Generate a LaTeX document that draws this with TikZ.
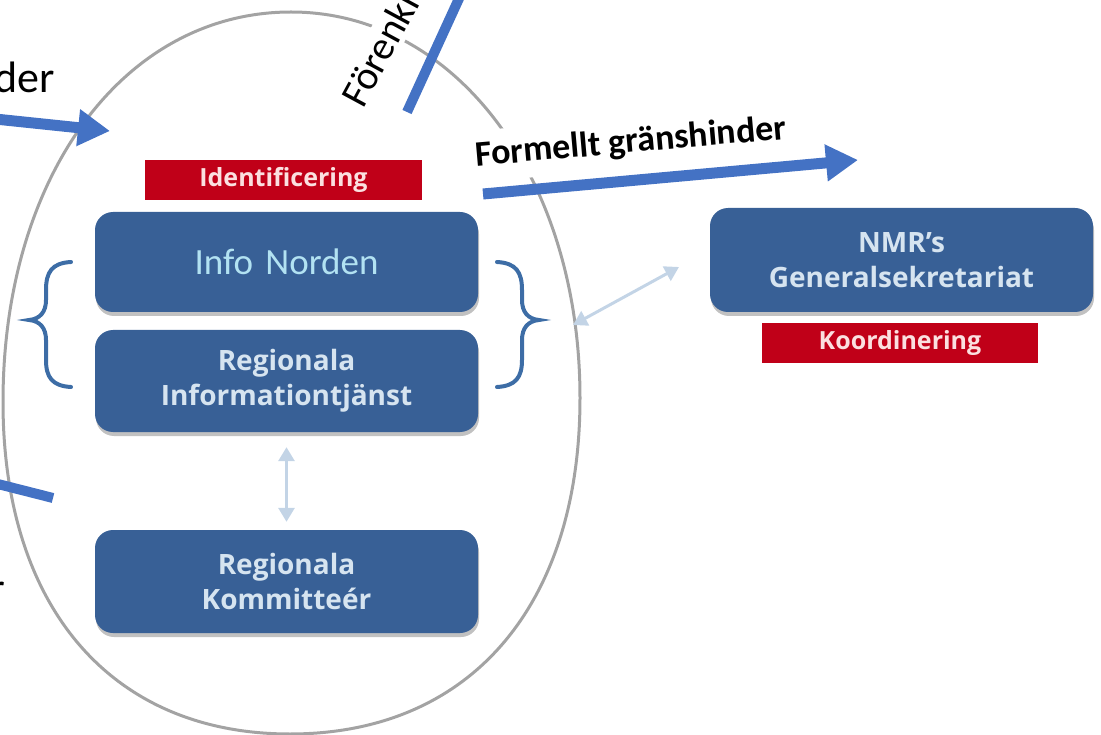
\documentclass[tikz,border=0pt]{standalone}
\usepackage{fontspec}
\setmainfont{Carlito}
\newfontfamily\osans{Open Sans}
\usetikzlibrary{arrows.meta,shadows}
\definecolor{boxblue}{HTML}{386096}
\definecolor{boxtext}{HTML}{D6E4F0}
\definecolor{infotext}{HTML}{B2E2F2}
\definecolor{redbox}{HTML}{C00018}
\definecolor{redtext}{HTML}{FBE0E0}
\definecolor{arrowblue}{HTML}{4472C4}
\definecolor{ringgray}{HTML}{A3A3A3}
\definecolor{bracecol}{HTML}{3D6DA6}
\definecolor{lightarrow}{HTML}{C3D4E6}
\begin{document}
\begin{tikzpicture}[x=1pt,y=-1pt,
  bluebox/.style={rounded corners=18pt, fill=boxblue, minimum width=383pt, text width=370pt,
    align=center, inner sep=0pt, text=boxtext,
    drop shadow={shadow xshift=1pt, shadow yshift=-4pt, opacity=0.35, fill=black!70},
    font=\osans\bfseries\fontsize{28}{35}\selectfont},
  redlabel/.style={fill=redbox, inner sep=0pt, text=redtext,
    font=\osans\bfseries\fontsize{25}{30}\selectfont},
  ring/.style={draw=ringgray, line width=3pt},
  bluearr/.style={draw=arrowblue, line width=11pt, -{Triangle[length=32pt,width=35pt]}},
  blueline/.style={draw=arrowblue, line width=10pt},
  lightarr/.style={draw=lightarrow, line width=3pt, {Triangle[length=14pt,width=16pt]}-{Triangle[length=14pt,width=16pt]}},
  bracestyle/.style={draw=bracecol, line width=4pt, line cap=round},
  freetext/.style={text=black, inner sep=6pt}
]
\useasboundingbox (0,0) rectangle (1101,735);
\clip (0,0) rectangle (1101,735);

% ring
\draw[ring] (291,12) .. controls (455.7,12) and (580,178) .. (580,398)
  .. controls (580,606) and (470,734) .. (290,734)
  .. controls (112,734) and (3,608) .. (3,402)
  .. controls (3,175.8) and (124,12) .. (291,12) -- cycle;

% texts on white
\node[freetext, fill=white, rotate=5, anchor=base west, inner sep=10pt,
  font=\bfseries\fontsize{36}{43}\selectfont] (formellt) at (466,167) {Formellt gränshinder};
\node[freetext, fill=white, rotate=61.6, anchor=base west, inner sep=4pt,
  font=\fontsize{40}{48}\selectfont] (forenkl) at (361,113) {Förenkl};
\node[freetext, anchor=base east, inner sep=0pt, font=\fontsize{44}{50}\selectfont] (der) at (55,93) {der};
\node[freetext, anchor=base east, inner sep=0pt, font=\fontsize{42}{50}\selectfont] (rfrag) at (5,602) {r};

% boxes
\node[redlabel, minimum width=277pt, minimum height=40pt] (ident) at (283.5,180) {Identificering};
\node[bluebox, minimum height=100pt, text=infotext, font=\fontsize{37}{44}\selectfont] (info) at (286.5,262) {Info Norden};
\node[bluebox, minimum height=102pt] (reginfo) at (286.5,381) {Regionala\\Informationtjänst};
\node[bluebox, minimum height=103pt] (regkom) at (286.5,581.5) {Regionala\\Kommitteér};
\node[bluebox, minimum height=104pt] (nmr) at (901.5,260) {NMR’s\\Generalsekretariat};
\node[redlabel, minimum width=276pt, minimum height=40pt] (koord) at (900,343) {Koordinering};

% braces
\draw[bracestyle] (71,262) .. controls (52,263) and (46,272) .. (46,290) -- (46,300)
  .. controls (46,312) and (40,319) .. (29,320) .. controls (40,321) and (46,328) .. (46,340)
  -- (46,360) .. controls (46,377) and (52,386) .. (71,387);
\draw[bracestyle] (497,262) .. controls (516,263) and (522,272) .. (522,290) -- (522,300)
  .. controls (522,312) and (528,319) .. (539,320) .. controls (528,321) and (522,328) .. (522,340)
  -- (522,360) .. controls (522,377) and (516,386) .. (497,387);

% light connectors
\draw[lightarr, shorten <=15pt, shorten >=8pt] (reginfo.south) -- (regkom.north);
\coordinate (da) at (573,325);
\coordinate (db) at (679,267);
\draw[lightarr] (da) -- (db);

% blue arrows and lines
\coordinate (l1) at (-5,119);
\coordinate (l2) at (110,131);
\draw[bluearr] (l1) -- (l2);
\coordinate (f1) at (483,194);
\coordinate (f2) at (858,160);
\draw[bluearr] (f1) -- (f2);
\coordinate (v1) at (407,112);
\coordinate (v2) at (462,-8);
\draw[blueline] (v1) -- (v2);
\coordinate (b1) at (-10,482);
\coordinate (b2) at (53,498);
\draw[blueline] (b1) -- (b2);
\end{tikzpicture}
\end{document}
